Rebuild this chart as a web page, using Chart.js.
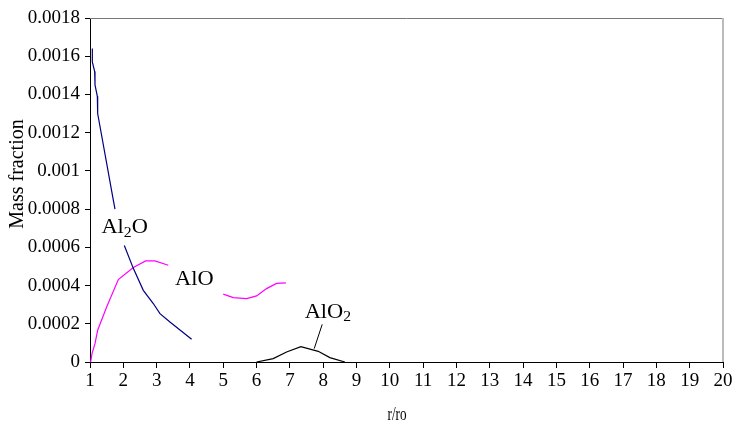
<!DOCTYPE html>
<html>
<head>
<meta charset="utf-8">
<script src="https://cdn.jsdelivr.net/npm/chart.js@4"></script>
<style>
html,body{margin:0;padding:0;background:#fff;}
canvas{display:block;}
</style>
</head>
<body>
<canvas id="c" width="735" height="425"></canvas>
<script>
// ---- data ----
const al2oX = [1.07, 1.07, 1.14, 1.15, 1.22, 1.23, 1.70, 1.75, 1.90, 2.03, 2.30, 2.60, 2.90, 3.10, 3.40, 4.05];
const al2oY = [0.00164, 0.00157, 0.00152, 0.00145, 0.00139, 0.00130, 0.000847, 0.00080, null, 0.00061, 0.00049, 0.000375, 0.000306, 0.000253, 0.000209, 0.000119];

const aloX = [1.02, 1.06, 1.15, 1.23, 1.50, 1.85, 2.30, 2.67, 2.95, 3.35, 4.20, 5.00, 5.30, 5.70, 6.00, 6.30, 6.60, 6.88];
const aloY = [0, 0.000044, 0.000096, 0.000166, 0.000288, 0.000431, 0.000494, 0.000529, 0.000529, 0.000506, null, 0.000355, 0.000337, 0.000332, 0.000346, 0.000384, 0.000411, 0.000414];

const alo2X = [6.0, 6.5, 6.9, 7.33, 7.85, 8.2, 8.65];
const alo2Y = [0, 0.000018, 0.000052, 0.00008, 0.000056, 0.000023, 0];

const seriesNames = ["Al2O", "AlO", "AlO2"];
const xTitle = "r/ro";
const yTitle = "Mass fraction";

// label annotations (data coordinates)
const labelSpecs = [
  {base: "Al", sub: "2", tail: "O", x: 2.04, y: 0.00070},
  {base: "AlO", sub: "", tail: "", x: 4.13, y: 0.000428},
  {base: "AlO", sub: "2", tail: "", x: 8.14, y: 0.00026}
];
const leader = {x1: 7.73, y1: 0.00007, x2: 7.97, y2: 0.000197};

function pts(xs, ys){ return xs.map((x,i)=>({x:x, y:ys[i]})); }

const FONT = "'Liberation Serif', 'Times New Roman', serif";
const STRETCH = 1.12;

const overlay = {
  id: 'overlay',
  afterDraw(chart){
    const ctx = chart.ctx, a = chart.chartArea;
    const xs = chart.scales.x, ys = chart.scales.y;
    ctx.save();
    // frame top and right
    ctx.strokeStyle = '#777';
    ctx.lineWidth = 1;
    ctx.beginPath(); ctx.moveTo(a.left, a.top + 0.5); ctx.lineTo(a.right, a.top + 0.5); ctx.stroke();
    ctx.strokeStyle = '#bbb';
    ctx.lineWidth = 2;
    ctx.beginPath(); ctx.moveTo(a.right, a.top); ctx.lineTo(a.right, a.bottom); ctx.stroke();

    // series labels
    ctx.fillStyle = '#000';
    ctx.textBaseline = 'middle';
    ctx.textAlign = 'left';
    labelSpecs.forEach(l => {
      const big = "20px " + FONT, small = "14px " + FONT;
      ctx.font = big; const w1 = ctx.measureText(l.base).width, w3 = ctx.measureText(l.tail).width;
      ctx.font = small; const w2 = l.sub ? ctx.measureText(l.sub).width : 0;
      const tot = (w1 + w2 + w3) * STRETCH;
      const cx = xs.getPixelForValue(l.x), cy = ys.getPixelForValue(l.y);
      ctx.save();
      ctx.translate(cx - tot/2, cy);
      ctx.scale(STRETCH, 1);
      let px = 0;
      ctx.font = big; ctx.fillText(l.base, px, 0); px += w1;
      if (l.sub){ ctx.font = small; ctx.fillText(l.sub, px, 5); px += w2; }
      if (l.tail){ ctx.font = big; ctx.fillText(l.tail, px, 0); }
      ctx.restore();
    });
    // leader line
    ctx.strokeStyle = '#000'; ctx.lineWidth = 1;
    ctx.beginPath();
    ctx.moveTo(xs.getPixelForValue(leader.x1), ys.getPixelForValue(leader.y1));
    ctx.lineTo(xs.getPixelForValue(leader.x2), ys.getPixelForValue(leader.y2));
    ctx.stroke();

    // axis titles
    ctx.font = "20px " + FONT;
    ctx.textAlign = 'center';
    ctx.save();
    ctx.translate(18, 174);
    ctx.rotate(-Math.PI/2);
    ctx.fillText(yTitle, 0, 0);
    ctx.restore();
    ctx.font = "19px " + FONT;
    ctx.fillText(xTitle, 397, 415, 19);
    ctx.restore();
  }
};

new Chart(document.getElementById('c'), {
  type: 'scatter',
  data: {
    datasets: [
      {label: seriesNames[0], data: pts(al2oX, al2oY), showLine: true, borderColor: '#000080', borderWidth: 1.2, pointRadius: 0, spanGaps: false, tension: 0},
      {label: seriesNames[1], data: pts(aloX, aloY), showLine: true, borderColor: '#ff00ff', borderWidth: 1.2, pointRadius: 0, spanGaps: false, tension: 0},
      {label: seriesNames[2], data: pts(alo2X, alo2Y), showLine: true, borderColor: '#000000', borderWidth: 1.2, pointRadius: 0, spanGaps: false, tension: 0}
    ]
  },
  options: {
    responsive: false,
    animation: false,
    layout: {padding: {left: 0, top: 18, right: 12, bottom: 0}},
    plugins: {legend: {display: false}, tooltip: {enabled: false}},
    scales: {
      x: {
        type: 'linear', min: 1, max: 20,
        afterFit(s){ s.height = 63; },
        ticks: {stepSize: 1, color: '#000', font: {family: FONT, size: 19}, padding: 2, maxRotation: 0, autoSkip: false},
        grid: {drawOnChartArea: false, color: '#000', tickLength: 6, tickWidth: 1},
        border: {color: '#000', width: 1}
      },
      y: {
        type: 'linear', min: 0, max: 0.0018,
        afterFit(s){ s.width = 90; },
        ticks: {stepSize: 0.0002, color: '#000', font: {family: FONT, size: 19}, padding: 5,
          callback: v => String(Number(v.toFixed(4)))},
        grid: {drawOnChartArea: false, color: '#000', tickLength: 5, tickWidth: 1},
        border: {color: '#000', width: 1}
      }
    }
  },
  plugins: [overlay]
});
</script>
</body>
</html>
